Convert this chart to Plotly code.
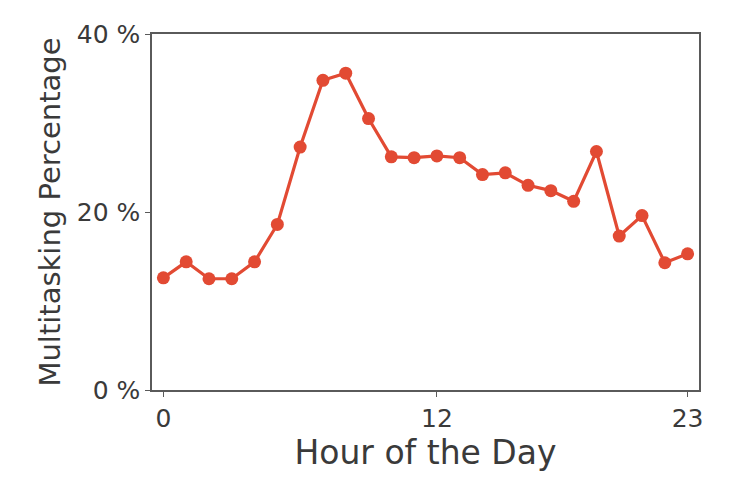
import plotly.graph_objects as go

hours = list(range(24))
multitask_pct = [12.6, 14.4, 12.5, 12.5, 14.4, 18.6, 27.3, 34.8, 35.6, 30.5,
                 26.2, 26.1, 26.3, 26.1, 24.2, 24.4, 23.0, 22.4, 21.2, 26.8,
                 17.3, 19.6, 14.3, 15.3]
x_ticks = [0, 12, 23]
y_ticks = [0, 20, 40]
y_tick_labels = ['0 %', '20 %', '40 %']

line_color = '#E24A33'
text_color = '#3a3a3a'
frame_color = '#5a5a5a'

fig = go.Figure()
fig.add_trace(go.Scatter(
    x=hours, y=multitask_pct, mode='lines+markers',
    line=dict(color=line_color, width=3.2),
    marker=dict(color=line_color, size=13),
    showlegend=False
))

axis_common = dict(
    showline=True, linecolor=frame_color, linewidth=1.5, mirror=True,
    showgrid=False, zeroline=False,
    ticks='outside', ticklen=5, tickwidth=1.2, tickcolor=frame_color,
    tickfont=dict(family='DejaVu Sans', size=25, color=text_color),
)

fig.update_xaxes(
    range=[-0.5, 23.5], tickvals=x_ticks,
    title=dict(text='Hour of the Day', standoff=6,
               font=dict(family='DejaVu Sans', size=33, color=text_color)),
    **axis_common
)
fig.update_yaxes(
    range=[0, 40], tickvals=y_ticks, ticktext=y_tick_labels,
    title=dict(text='Multitasking Percentage', standoff=8,
               font=dict(family='DejaVu Sans', size=29, color=text_color)),
    **axis_common
)

fig.update_layout(
    width=740, height=481,
    margin=dict(l=144, r=49, t=26, b=99),
    plot_bgcolor='white', paper_bgcolor='white',
)

fig.write_html("out.html")
